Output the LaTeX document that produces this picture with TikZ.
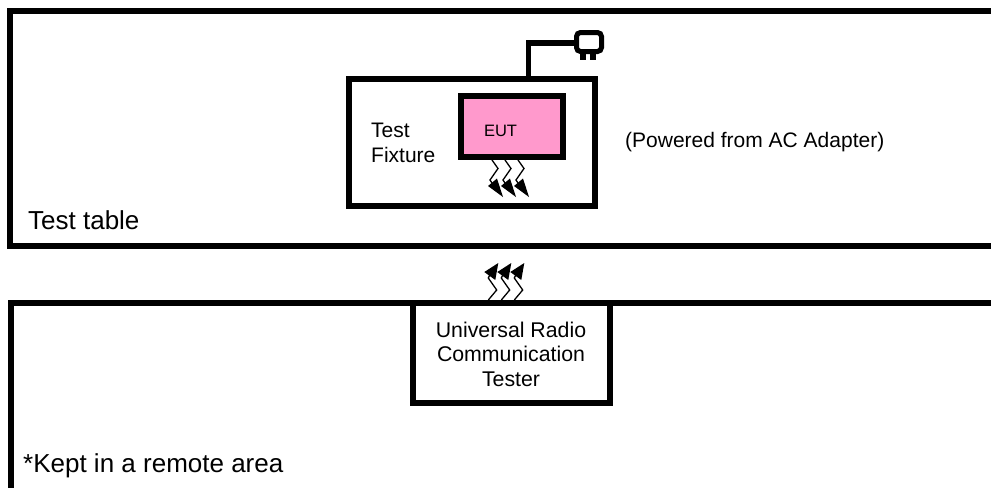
\documentclass[tikz,border=0pt]{standalone}
\usepackage{fontspec}
\setmainfont{Liberation Sans}
\definecolor{eutpink}{HTML}{FF99CC}
\tikzset{
  frameline/.style={draw=black,line width=6pt,line cap=butt,line join=miter},
  boxnode/.style={draw=black,line width=6pt,fill=white,inner sep=0pt,outer sep=0pt,align=center},
  lbl/.style={inner sep=0pt,align=center,text=black},
  bolt/.style={draw=black,line width=1.3pt,line join=miter},
  bolthead/.style={fill=black,draw=none},
}
\newcommand{\zapdown}[2]{%
  \draw[bolt] (#1+0,#2+0) -- (#1+6,#2+8.5) -- (#1-2,#2+20) -- (#1+2,#2+26);
  \fill[bolthead] (#1+11,#2+37) -- (#1-4,#2+26) -- (#1+5,#2+18.5) -- cycle;}
\newcommand{\zapup}[2]{%
  \draw[bolt] (#1+0,#2+0) -- (#1+8.4,#2-10) -- (#1+0,#2-22) -- (#1+2,#2-26);
  \fill[bolthead] (#1+10,#2-37) -- (#1-4,#2-28) -- (#1+7,#2-20) -- cycle;}
\begin{document}
\begin{tikzpicture}[x=1pt,y=-1pt]
\useasboundingbox (0,0) rectangle (991,488);
% open frames
\draw[frameline] (991,11) -- (10,11) -- (10,245.5) -- (991,245.5);
\draw[frameline] (991,303) -- (11,303) -- (11,488);
% fixture
\node[boxnode,minimum width=246pt,minimum height=127pt,anchor=north west] (fixture) at (349,79) {};
\node[boxnode,fill=eutpink,minimum width=102pt,minimum height=61pt,anchor=north west] (eut) at (461,96) {};
\node[boxnode,minimum width=197pt,minimum height=100pt,anchor=north west] (tester) at (413,303) {};
% plug
\node[draw=black,line width=5pt,fill=white,rounded corners=4pt,minimum width=25pt,minimum height=19pt,inner sep=0pt,outer sep=0pt,anchor=north west] (plug) at (576.5,32.5) {};
\fill[black] (580,53) rectangle (586,60);
\fill[black] (590,53) rectangle (596,60);
\coordinate (riser) at (528.5,79);
\coordinate (bend) at (528.5,43);
\draw[line width=5.5pt,line join=miter] (riser) -- (bend) -- (plug.west |- bend);
% zigzags
\zapdown{492}{160}\zapdown{505}{160}\zapdown{518}{160}
\zapup{488.3}{300}\zapup{501.3}{300}\zapup{514.3}{300}
% labels
\node[lbl,font=\fontsize{21}{25}\selectfont,align=left,anchor=north west] (fixlabel) at (371,122.5) {Test\\Fixture};
\node[lbl,font=\fontsize{16.5}{19}\selectfont] (eutlabel) at (500.5,130.5) {EUT};
\node[lbl,font=\fontsize{21}{25}\selectfont,anchor=base west] (power) at (625,147) {(Powered from AC Adapter)};
\node[lbl,font=\fontsize{26}{30}\selectfont,anchor=base west] (tablelabel) at (28,229.5) {Test table};
\node[lbl,font=\fontsize{21.3}{24.5}\selectfont] (testerlabel) at (511,354) {Universal Radio\\Communication\\Tester};
\node[lbl,font=\fontsize{26}{30}\selectfont,anchor=base west] (remote) at (23,472) {*Kept in a remote area};
\end{tikzpicture}
\end{document}
